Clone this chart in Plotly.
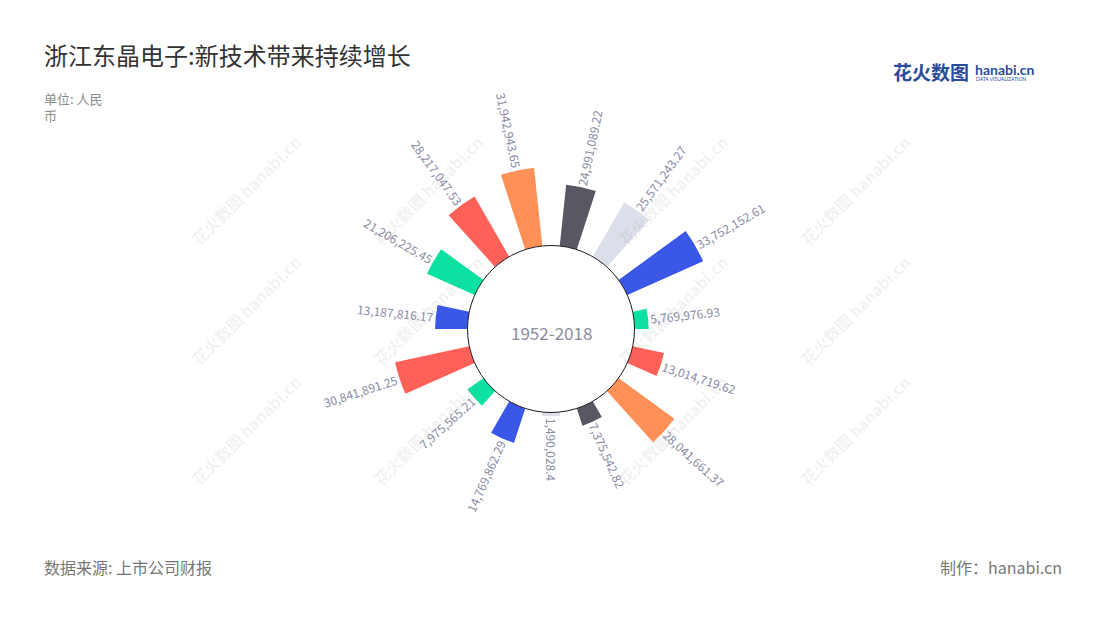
import math
import plotly.graph_objects as go

# ---------------- data ----------------
categories = [f"项目{i + 1}" for i in range(15)]
values = [24991089.22, 25571243.27, 33752152.61, 5769976.93, 13014719.62,
          28041661.37, 7375542.82, 1490028.40, 14769862.29, 7975565.21,
          30841891.25, 13187816.17, 21206225.45, 28217047.53, 31942943.65]
value_labels = ["24,991,089.22", "25,571,243.27", "33,752,152.61", "5,769,976.93",
                "13,014,719.62", "28,041,661.37", "7,375,542.82", "1,490,028.4",
                "14,769,862.29", "7,975,565.21", "30,841,891.25", "13,187,816.17",
                "21,206,225.45", "28,217,047.53", "31,942,943.65"]
DARK, LIGHT, BLUE, GREEN, RED, ORANGE = "#585862", "#dcdfea", "#3a57e8", "#0be2a1", "#ff6058", "#ff9057"
bar_colors = [DARK, LIGHT, BLUE, GREEN, RED, ORANGE, DARK, LIGHT, BLUE, GREEN,
              RED, BLUE, GREEN, RED, ORANGE]
center_label = "1952-2018"

# ---------------- layout geometry ----------------
W, H = 1100, 620
CX, CY = 551, 329          # polar centre (px, from top-left)
HOLE_PX = 83.5             # radius of hole
PX_PER_UNIT = 2.46e-6      # px per yuan
RMAX = 40e6
R_PX = HOLE_PX + PX_PER_UNIT * RMAX
HOLE = HOLE_PX / R_PX
ROT = 78                   # angle of first category (deg, counter-clockwise from east)
N = len(categories)
FONT = "Noto Sans CJK SC"

dom_x = [(CX - R_PX) / W, (CX + R_PX) / W]
dom_y = [(H - CY - R_PX) / H, (H - CY + R_PX) / H]

hole_v = HOLE_PX / PX_PER_UNIT
# overlay cartesian axes spanning the whole figure, same scale as the radial axis
x_range = [(0 - CX) / PX_PER_UNIT, (W - CX) / PX_PER_UNIT]
y_range = [(CY - H) / PX_PER_UNIT, CY / PX_PER_UNIT]

fig = go.Figure()
fig.add_trace(go.Barpolar(
    r=values, theta=categories,
    marker=dict(color=bar_colors, line=dict(width=0)),
    hoverinfo="text", text=value_labels, showlegend=False,
))

fig.add_trace(go.Scatter(x=[0], y=[0], mode="markers", marker=dict(opacity=0),
                         hoverinfo="skip", showlegend=False))


def text_width(s, fs):
    w = 0
    for ch in s:
        w += 0.27 * fs if ch in ",." else 0.56 * fs
    return w


LABEL_FS = 12
GAP_PX = 2
annotations = []

# watermarks (drawn first, faint)
WM_X = [183, 428, 673, 918]
WM_Y = [127, 310, 493]
for wx in WM_X:
    for wy in WM_Y:
        annotations.append(dict(
            x=wx / W, y=1 - wy / H, xref="paper", yref="paper", showarrow=False,
            text="<b>花火数图 hanabi.cn</b>", textangle=-45,
            font=dict(family=FONT, size=16, color="rgba(120,120,120,0.11)"),
        ))

for i, (v, lab) in enumerate(zip(values, value_labels)):
    compass = (90 - ROT + 360.0 / N * i) % 360
    a = math.radians(compass)
    L = text_width(lab, LABEL_FS)
    rc = hole_v + v + (GAP_PX + L / 2) / PX_PER_UNIT
    ang = compass - 90 if round(compass, 6) <= 180 else compass - 270
    annotations.append(dict(
        x=rc * math.sin(a), y=rc * math.cos(a), xref="x", yref="y",
        text=lab, showarrow=False, textangle=ang, xanchor="center", yanchor="middle",
        font=dict(family=FONT, size=LABEL_FS, color="#8a8ca3"),
    ))

annotations.append(dict(x=0, y=0, xref="x", yref="y", text=center_label, showarrow=False,
                        yshift=-3, font=dict(family=FONT, size=17, color="#8a8ca3")))

# titles & footers
annotations += [
    dict(x=42 / W, y=1 - 54 / H, xref="paper", yref="paper", xanchor="left", yanchor="middle",
         text="浙江东晶电子:新技术带来持续增长", showarrow=False,
         font=dict(family=FONT, size=24, color="#333333")),
    dict(x=42 / W, y=1 - 87 / H, xref="paper", yref="paper", xanchor="left", yanchor="top",
         text="单位: 人民<br>币", showarrow=False, align="left",
         font=dict(family=FONT, size=13, color="#8c8c8c")),
    dict(x=42 / W, y=1 - 567 / H, xref="paper", yref="paper", xanchor="left", yanchor="middle",
         text="数据来源: 上市公司财报", showarrow=False,
         font=dict(family=FONT, size=16, color="#777777")),
    dict(x=1064 / W, y=1 - 567 / H, xref="paper", yref="paper", xanchor="right", yanchor="middle",
         text="制作：hanabi.cn", showarrow=False,
         font=dict(family=FONT, size=16, color="#777777")),
    dict(x=891 / W, y=1 - 72 / H, xref="paper", yref="paper", xanchor="left", yanchor="middle",
         text="<b>花火数图</b>", showarrow=False,
         font=dict(family=FONT, size=19, color="#2a4a9c")),
    dict(x=973 / W, y=1 - 69 / H, xref="paper", yref="paper", xanchor="left", yanchor="middle",
         text="<b>hanabi.cn</b>", showarrow=False,
         font=dict(family="Lato", size=14, color="#2a4a9c")),
    dict(x=974 / W, y=1 - 79 / H, xref="paper", yref="paper", xanchor="left", yanchor="middle",
         text="DATA VISUALIZATION", showarrow=False,
         font=dict(family="Lato", size=5, color="#2a4a9c")),
]

fig.update_layout(
    width=W, height=H,
    margin=dict(l=0, r=0, t=0, b=0),
    paper_bgcolor="white", plot_bgcolor="rgba(0,0,0,0)",
    polar=dict(
        domain=dict(x=dom_x, y=dom_y),
        hole=HOLE,
        bgcolor="rgba(0,0,0,0)",
        bargap=0.5,
        radialaxis=dict(range=[0, RMAX], visible=False),
        angularaxis=dict(visible=False, rotation=ROT, direction="clockwise",
                         categoryorder="array", categoryarray=categories),
    ),
    xaxis=dict(domain=[0, 1], range=x_range, visible=False, fixedrange=True),
    yaxis=dict(domain=[0, 1], range=y_range, visible=False, fixedrange=True),
    shapes=[dict(type="circle", xref="x", yref="y", x0=-hole_v, x1=hole_v, y0=-hole_v, y1=hole_v,
                 line=dict(color="#1a1a1a", width=1), layer="above")],
    annotations=annotations,
    showlegend=False,
)

fig.write_html("out.html", config={"displayModeBar": False},
               post_script="document.body.style.margin='0';")
